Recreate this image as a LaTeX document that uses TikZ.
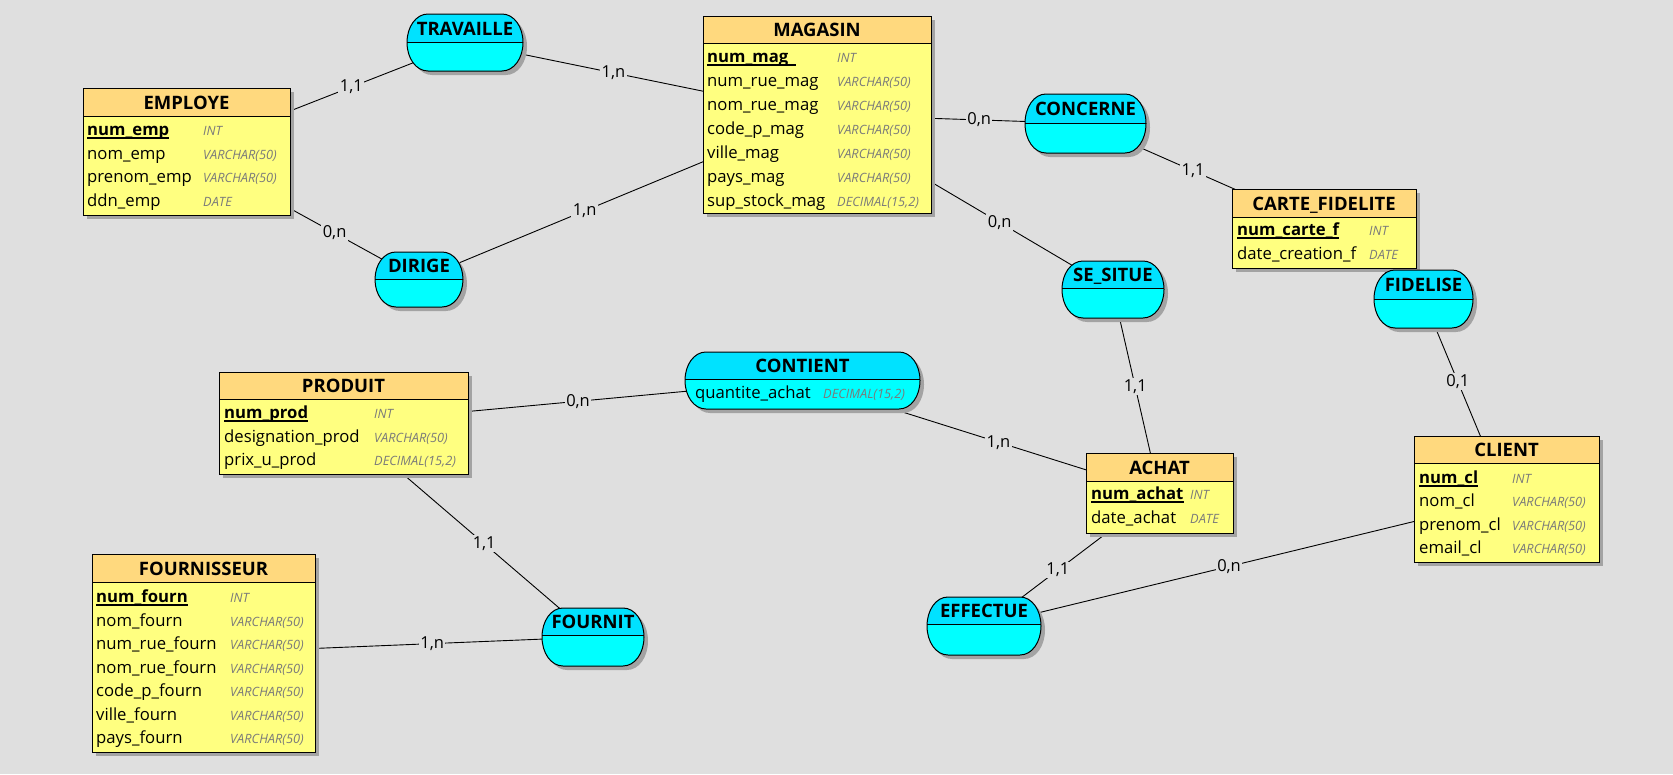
\documentclass[tikz,border=0pt]{standalone}
\usepackage{fontspec}
\setmainfont{Open Sans}

\definecolor{canvasgray}{RGB}{223,223,223}
\definecolor{enthead}{RGB}{255,217,126}
\definecolor{entbody}{RGB}{255,255,128}
\definecolor{assohead}{RGB}{0,226,255}
\definecolor{assobody}{RGB}{0,255,255}
\definecolor{shadowgray}{RGB}{163,163,163}
\definecolor{typegray}{RGB}{122,122,122}

\pgfdeclarelayer{canvas}
\pgfdeclarelayer{links}
\pgfsetlayers{canvas,links,main}

\tikzset{
  boxtitle/.style={anchor=base, inner sep=0pt, font=\fontsize{18.5}{20}\selectfont\bfseries},
  field/.style={anchor=base west, inner sep=0pt, font=\fontsize{16.7}{20}\selectfont},
  keyfield/.style={anchor=base west, inner sep=0pt, font=\fontsize{16.7}{20}\selectfont\bfseries},
  ftype/.style={anchor=base west, inner sep=0pt, text=typegray, font=\fontsize{12.8}{14}\selectfont\itshape},
  card/.style={fill=canvasgray, inner sep=1.5pt, font=\fontsize{16.5}{18}\selectfont},
  conn/.style={draw=black, line width=0.9pt},
  edgeline/.style={draw=black, line width=1pt},
}

% entity box: name, left, top, right, bottom, header bottom, title
\newcommand{\entite}[7]{%
  \fill[shadowgray] (#2+4,#3+4) rectangle (#4+4,#5+4);
  \node[inner sep=0pt, outer sep=0pt, fill=entbody,
        minimum width={(#4-#2)*1pt}, minimum height={(#5-#3)*1pt}]
        (#1) at ({(#2+#4)/2},{(#3+#5)/2}) {};
  \fill[enthead] (#2,#3) rectangle (#4,#6);
  \draw[edgeline] (#2,#6) -- (#4,#6);
  \draw[edgeline] (#2,#3) rectangle (#4,#5);
  \node[boxtitle] (#1-title) at ({(#2+#4)/2},{(#3+#6)/2+7}) {#7};
}

% rounded association outline built from the current \aL,\aT,\aR,\aB
\newcommand{\stadium}{(\aL+21,\aT) -- (\aR-21,\aT)
  .. controls (\aR-9,\aT) and (\aR,\aM-\ky) .. (\aR,\aM)
  .. controls (\aR,\aM+\ky) and (\aR-9,\aB) .. (\aR-21,\aB)
  -- (\aL+21,\aB)
  .. controls (\aL+9,\aB) and (\aL,\aM+\ky) .. (\aL,\aM)
  .. controls (\aL,\aM-\ky) and (\aL+9,\aT) .. (\aL+21,\aT) -- cycle}

% association: name, left, top, right, bottom, divider y, title
\newcommand{\assoc}[7]{%
  \pgfmathsetmacro\aL{#2}\pgfmathsetmacro\aT{#3}%
  \pgfmathsetmacro\aR{#4}\pgfmathsetmacro\aB{#5}%
  \pgfmathsetmacro\aM{(#3+#5)/2}\pgfmathsetmacro\ky{0.5523*(#5-#3)/2}%
  \fill[shadowgray, shift={(4,4)}] \stadium;
  \node[inner sep=0pt, outer sep=0pt,
        minimum width={(#4-#2)*1pt}, minimum height={(#5-#3)*1pt}]
        (#1) at ({(#2+#4)/2},{(#3+#5)/2}) {};
  \fill[assobody] \stadium;
  \begin{scope}
    \clip \stadium;
    \fill[assohead] (#2,#3) rectangle (#4,#6);
    \draw[edgeline] (#2,#6) -- (#4,#6);
  \end{scope}
  \draw[edgeline] \stadium;
  \node[boxtitle] (#1-title) at ({(#2+#4)/2},{(#3+#6)/2+7}) {#7};
}

% attribute row: name, x, baseline, text, type x, type
\newcommand{\champ}[6]{%
  \node[field] (#1) at (#2,#3) {#4};
  \node[ftype] (#1-type) at (#5,#3) {#6};
}
% identifier row, underlined; optional extra underline length
\newcommand{\cle}[7][0]{%
  \node[keyfield] (#2) at (#3,#4) {#5};
  \draw[line width=1.4pt] ([yshift=-2.5pt]#2.base west) -- ([yshift=-2.5pt,xshift=#1pt]#2.base east);
  \node[ftype] (#2-type) at (#6,#4) {#7};
}

\begin{document}
\begin{tikzpicture}[x=1pt, y=-1pt]
\useasboundingbox (0,0) rectangle (1673,774);
\begin{pgfonlayer}{canvas}
  \fill[canvasgray] (0,0) rectangle (1673,774);
\end{pgfonlayer}

% ---------- entities ----------
\entite{employe}{83}{88}{290}{215}{116}{EMPLOYE}
\cle{emp1}{87}{135.5}{num\_emp}{203}{INT}
\champ{emp2}{87}{159}{nom\_emp}{203}{VARCHAR(50)}
\champ{emp3}{87}{182.5}{prenom\_emp}{203}{VARCHAR(50)}
\champ{emp4}{87}{206}{ddn\_emp}{203}{DATE}

\entite{magasin}{703}{16}{931}{213}{43}{MAGASIN}
\cle[7]{mag1}{707}{62.5}{num\_mag}{837}{INT}
\champ{mag2}{707}{86.5}{num\_rue\_mag}{837}{VARCHAR(50)}
\champ{mag3}{707}{110.5}{nom\_rue\_mag}{837}{VARCHAR(50)}
\champ{mag4}{707}{134.5}{code\_p\_mag}{837}{VARCHAR(50)}
\champ{mag5}{707}{158.5}{ville\_mag}{837}{VARCHAR(50)}
\champ{mag6}{707}{182.5}{pays\_mag}{837}{VARCHAR(50)}
\champ{mag7}{707}{206.5}{sup\_stock\_mag}{837}{DECIMAL(15,2)}

\entite{carte}{1232}{189}{1416}{268}{217}{CARTE\_FIDELITE}
\cle{car1}{1237}{235.5}{num\_carte\_f}{1369}{INT}
\champ{car2}{1237}{259.5}{date\_creation\_f}{1369}{DATE}

\entite{produit}{219}{372}{468}{474}{399}{PRODUIT}
\cle{pro1}{224}{418.5}{num\_prod}{374}{INT}
\champ{pro2}{224}{442.5}{designation\_prod}{374}{VARCHAR(50)}
\champ{pro3}{224}{465.5}{prix\_u\_prod}{374}{DECIMAL(15,2)}

\entite{achat}{1086}{453}{1233}{533}{481}{ACHAT}
\cle{ach1}{1091}{499.5}{num\_achat}{1190}{INT}
\champ{ach2}{1091}{523.5}{date\_achat}{1190}{DATE}

\entite{client}{1414}{436}{1599}{562}{463}{CLIENT}
\cle{cli1}{1419}{483.5}{num\_cl}{1512}{INT}
\champ{cli2}{1419}{506.5}{nom\_cl}{1512}{VARCHAR(50)}
\champ{cli3}{1419}{530.5}{prenom\_cl}{1512}{VARCHAR(50)}
\champ{cli4}{1419}{553.5}{email\_cl}{1512}{VARCHAR(50)}

\entite{fournisseur}{92}{554}{315}{752}{582}{FOURNISSEUR}
\cle{fou1}{96}{602.5}{num\_fourn}{230}{INT}
\champ{fou2}{96}{626}{nom\_fourn}{230}{VARCHAR(50)}
\champ{fou3}{96}{649.5}{num\_rue\_fourn}{230}{VARCHAR(50)}
\champ{fou4}{96}{673}{nom\_rue\_fourn}{230}{VARCHAR(50)}
\champ{fou5}{96}{696.5}{code\_p\_fourn}{230}{VARCHAR(50)}
\champ{fou6}{96}{720}{ville\_fourn}{230}{VARCHAR(50)}
\champ{fou7}{96}{743.5}{pays\_fourn}{230}{VARCHAR(50)}

% ---------- associations ----------
\assoc{travaille}{407}{14}{523}{71}{42}{TRAVAILLE}
\assoc{dirige}{375}{252}{463}{307}{279}{DIRIGE}
\assoc{concerne}{1025}{94}{1146}{153}{123}{CONCERNE}
\assoc{situe}{1062}{261}{1164}{318}{288}{SE\_SITUE}
\assoc{fidelise}{1374}{270}{1473}{328}{299}{FIDELISE}
\assoc{contient}{685}{352}{920}{409}{379}{CONTIENT}
\champ{con1}{695}{398.5}{quantite\_achat}{823}{DECIMAL(15,2)}
\assoc{fournit}{542}{608}{644}{666}{635}{FOURNIT}
\assoc{effectue}{927}{597}{1041}{655}{624}{EFFECTUE}

% ---------- links with cardinalities ----------
\begin{pgfonlayer}{links}
  \draw[conn] (employe.center) -- node[card, pos=0.592] (k1) {1,1} (travaille.center);
  \draw[conn] (travaille.center) -- node[card, pos=0.422] (k2) {1,n} (magasin.center);
  \draw[conn] (employe.center) -- node[card, pos=0.637] (k3) {0,n} (dirige.center);
  \draw[conn] (dirige.center) -- node[card, pos=0.416] (k4) {1,n} (magasin.center);
  \draw[conn] (magasin.center) -- node[card, pos=0.604] (k5) {0,n} (concerne.center);
  \draw[conn] (concerne.center) -- node[card, pos=0.451] (k6) {1,1} (carte.center);
  \draw[conn] (magasin.center) -- node[card, pos=0.617] (k7) {0,n} (situe.center);
  \draw[conn] (situe.center) -- node[card, pos=0.478] (k8) {1,1} (achat.center);
  \draw[conn] (carte.center) -- (fidelise.center);
  \draw[conn] (fidelise.center) -- node[card, pos=0.414] (k9) {0,1} (client.center);
  \draw[conn] (produit.center) -- node[card, pos=0.511] (k10) {0,n} (contient.center);
  \draw[conn] (contient.center) -- node[card, pos=0.549] (k11) {1,n} (achat.center);
  \draw[conn] (produit.center) -- node[card, pos=0.564] (k12) {1,1} (fournit.center);
  \draw[conn] (fournisseur.center) -- node[card, pos=0.587] (k13) {1,n} (fournit.center);
  \draw[conn] (achat.center) -- node[card, pos=0.579] (k14) {1,1} (effectue.center);
  \draw[conn] (effectue.center) -- node[card, pos=0.469] (k15) {0,n} (client.center);
\end{pgfonlayer}
\end{tikzpicture}
\end{document}
